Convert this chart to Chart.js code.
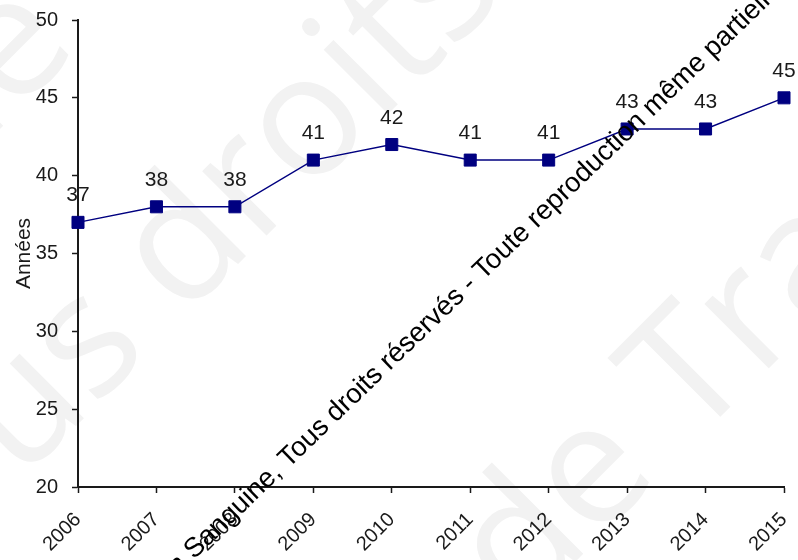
<!DOCTYPE html>
<html>
<head>
<meta charset="utf-8">
<script src="https://cdn.jsdelivr.net/npm/chart.js@4"></script>
<style>
  html, body { margin: 0; padding: 0; background: #ffffff; }
  #wrap { width: 798px; height: 560px; position: relative; }
</style>
</head>
<body>
<div id="wrap"><canvas id="chart"></canvas></div>
<script>
// Age moyen (années), 2006–2015
const years = ['2006', '2007', '2008', '2009', '2010', '2011', '2012', '2013', '2014', '2015'];
const ages = [37, 38, 38, 41, 42, 41, 41, 43, 43, 45];
const yTickValues = [20, 25, 30, 35, 40, 45, 50];
const yTitle = 'Années';

// Copyright notice drawn across the plot
const noticeText = 'Institut National de la Transfusion Sanguine, Tous droits réservés - Toute reproduction même partielle interdite';
const noticeAnchorWord = 'Sanguine';

// Large pale background lettering (text, substring used as anchor)
const backdropLines = [
  { text: 'Transfusion Sanguine - Tous droits', anchor: 'e - Tous' },
  { text: 'Tous droits réservés', anchor: 'Tous' },
  { text: 'Institut National de Transfusion Sanguine', anchor: 'de Trans' }
];

const FONT = 'Arial, "Liberation Sans", sans-serif';
const NAVY = '#000080';

// Baseline-left start points of the anchors above (canvas pixels)
const backdropStarts = [[13, 116], [-118, 620], [520, 617]];
const noticeStart = [194, 560];
const noticeAngle = -44 * Math.PI / 180;

const backdropPlugin = {
  id: 'backdrop',
  beforeDraw(chart) {
    const ctx = chart.ctx;
    ctx.save();
    ctx.fillStyle = '#ffffff';
    ctx.fillRect(0, 0, chart.width, chart.height);
    ctx.fillStyle = '#f2f2f2';
    ctx.font = '170px "Open Sans", ' + FONT;
    ctx.textAlign = 'left';
    ctx.textBaseline = 'alphabetic';
    backdropLines.forEach((line, i) => {
      const idx = line.text.indexOf(line.anchor);
      const pre = ctx.measureText(line.text.slice(0, idx)).width;
      ctx.save();
      ctx.translate(backdropStarts[i][0], backdropStarts[i][1]);
      ctx.rotate(-Math.PI / 4);
      ctx.fillText(line.text, -pre, 0);
      ctx.restore();
    });
    ctx.restore();
  }
};

const valueLabelPlugin = {
  id: 'valueLabels',
  afterDatasetsDraw(chart) {
    const ctx = chart.ctx;
    const meta = chart.getDatasetMeta(0);
    ctx.save();
    ctx.font = '21px ' + FONT;
    ctx.fillStyle = '#1a1a1a';
    ctx.textAlign = 'center';
    ctx.textBaseline = 'alphabetic';
    meta.data.forEach((pt, i) => {
      ctx.fillText(String(ages[i]), pt.x, pt.y - 21);
    });
    ctx.restore();
  }
};

const noticePlugin = {
  id: 'notice',
  afterDraw(chart) {
    const ctx = chart.ctx;
    ctx.save();
    ctx.font = '27.5px ' + FONT;
    ctx.fillStyle = '#000000';
    ctx.textAlign = 'left';
    ctx.textBaseline = 'alphabetic';
    const idx = noticeText.indexOf(noticeAnchorWord);
    const pre = ctx.measureText(noticeText.slice(0, idx)).width;
    ctx.translate(noticeStart[0], noticeStart[1]);
    ctx.rotate(noticeAngle);
    ctx.fillText(noticeText, -pre, 0);
    ctx.restore();
  }
};

new Chart(document.getElementById('chart'), {
  type: 'line',
  data: {
    labels: years,
    datasets: [{
      data: ages,
      borderColor: NAVY,
      borderWidth: 1.5,
      backgroundColor: NAVY,
      pointStyle: 'rect',
      pointRadius: 8.5,
      pointHoverRadius: 8.5,
      pointBorderWidth: 1,
      pointBorderColor: NAVY,
      pointBackgroundColor: NAVY,
      tension: 0,
      fill: false
    }]
  },
  options: {
    responsive: true,
    maintainAspectRatio: false,
    animation: false,
    events: [],
    layout: { padding: { top: 20, right: 14, left: 0, bottom: 0 } },
    plugins: {
      legend: { display: false },
      tooltip: { enabled: false },
      title: { display: false }
    },
    scales: {
      x: {
        type: 'category',
        offset: false,
        grid: {
          offset: false,
          drawOnChartArea: false,
          drawTicks: true,
          tickLength: 6,
          tickWidth: 1.5,
          tickColor: '#1a1a1a'
        },
        border: { display: true, color: '#1a1a1a', width: 2 },
        ticks: {
          autoSkip: false,
          maxRotation: 45,
          minRotation: 45,
          padding: 15,
          color: '#1a1a1a',
          font: { family: FONT, size: 20 }
        },
        afterFit(scale) {
          scale.height = 73;
          scale.paddingLeft = 0;
          scale.paddingRight = 0;
        }
      },
      y: {
        min: 20,
        max: 50,
        grid: {
          drawOnChartArea: false,
          drawTicks: true,
          tickLength: 6,
          tickWidth: 1.5,
          tickColor: '#1a1a1a'
        },
        border: { display: true, color: '#1a1a1a', width: 2 },
        afterBuildTicks(scale) {
          scale.ticks = yTickValues.map(v => ({ value: v }));
        },
        ticks: {
          padding: 14,
          color: '#1a1a1a',
          font: { family: FONT, size: 20 }
        },
        title: {
          display: true,
          text: yTitle,
          color: '#1a1a1a',
          font: { family: FONT, size: 21 },
          padding: { top: 12, bottom: 0 }
        },
        afterFit(scale) {
          scale.width = 78;
          scale.paddingTop = 0;
          scale.paddingBottom = 0;
        }
      }
    }
  },
  plugins: [backdropPlugin, valueLabelPlugin, noticePlugin]
});
</script>
</body>
</html>
